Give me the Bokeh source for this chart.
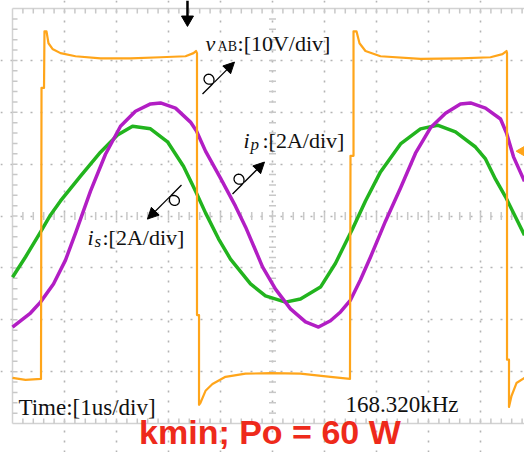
import numpy as np
from bokeh.plotting import figure
from bokeh.models import Range1d, Grid, FixedTicker, Label, Arrow, NormalHead
from bokeh.embed import file_html
from bokeh.resources import INLINE

# ---------------- data (time in us = 1 div, amplitude in divisions) ----------------
vab_t = [0.000, 0.250, 0.548, 0.558, 0.606, 0.615, 0.654, 0.692, 0.769, 0.923, 1.212, 1.692,
         2.269, 2.846, 3.327, 3.481, 3.529, 3.548, 3.548, 3.587, 3.587, 3.615, 3.712, 3.846,
         4.096, 4.481, 4.962, 5.538, 6.115, 6.490, 6.500, 6.558, 6.558, 6.615, 6.673, 6.788,
         7.077, 7.846, 8.615, 9.192, 9.423, 9.500, 9.510, 9.510, 9.548, 9.548, 9.596, 9.692,
         9.846]
vab_v = [-3.12, -3.16, -3.14, 2.47, 2.47, 3.56, 3.56, 3.33, 3.22, 3.14, 3.08, 3.04,
         3.04, 3.06, 3.08, 3.14, 3.18, 3.14, -1.91, -1.91, -3.64, -3.60, -3.37, -3.24,
         -3.10, -3.04, -3.03, -3.04, -3.10, -3.14, 1.16, 1.16, 3.56, 3.56, 3.33, 3.18,
         3.08, 3.03, 3.04, 3.06, 3.12, 3.18, 3.14, -2.77, -2.77, -3.68, -3.47, -3.22,
         -3.12]

is_t = [0.000, 0.250, 0.538, 0.731, 0.923, 1.308, 1.692, 2.019, 2.308, 2.654, 2.981, 3.288,
        3.519, 3.712, 3.962, 4.192, 4.577, 4.865, 5.250, 5.538, 5.923, 6.212, 6.404, 6.538,
        6.788, 7.077, 7.462, 7.846, 8.173, 8.519, 8.904, 9.096, 9.288, 9.481, 9.673, 9.846]
is_v = [-1.18, -0.79, -0.31, 0.02, 0.29, 0.77, 1.23, 1.56, 1.73, 1.68, 1.43, 0.96,
        0.48, 0.06, -0.44, -0.83, -1.31, -1.54, -1.66, -1.60, -1.37, -0.91, -0.52, -0.25,
        0.29, 0.85, 1.39, 1.68, 1.75, 1.62, 1.33, 1.10, 0.71, 0.37, -0.02, -0.37]

ip_t = [0.000, 0.154, 0.346, 0.538, 0.788, 1.019, 1.212, 1.500, 1.788, 2.077, 2.365, 2.654,
        2.846, 3.135, 3.423, 3.538, 3.712, 4.000, 4.288, 4.481, 4.673, 4.808, 5.058, 5.346,
        5.635, 5.885, 6.115, 6.308, 6.500, 6.692, 6.885, 7.077, 7.173, 7.462, 7.750, 8.038,
        8.327, 8.615, 8.808, 9.096, 9.385, 9.500, 9.635, 9.846]
ip_v = [-2.14, -2.02, -1.87, -1.66, -1.31, -0.85, -0.33, 0.48, 1.19, 1.73, 2.02, 2.16,
        2.18, 2.08, 1.81, 1.64, 1.25, 0.73, 0.19, -0.21, -0.66, -0.98, -1.41, -1.79,
        -2.04, -2.14, -2.02, -1.85, -1.62, -1.23, -0.79, -0.33, -0.10, 0.54, 1.21, 1.70,
        1.98, 2.16, 2.18, 2.08, 1.87, 1.60, 1.14, 0.67]

# annotation arrows: (tail, tip) in (us, div)
arrow_tails = [(3.654, 2.351), (4.231, 0.424), (3.250, 0.597)]
arrow_tips = [(4.269, 2.967), (4.846, 1.040), (2.596, -0.058)]

time_label = "Time:[1us/div]"
freq_label = "168.320kHz"
title_text = "kmin; Po = 60 W"

# ---------------- figure ----------------
W, H = 524, 452
SX = 52.0          # px per time division
SY = 415.0 / 8     # px per vertical division
XL, XR = 0.0, 512 / SX
YB, YT = -4.0, 4.0
x_range = Range1d(XL - 12 / SX, XR)
y_range = Range1d(YB - 29 / SY, YT + 8 / SY)

C_OR = "#FFA51A"
C_GR = "#22B41E"
C_MG = "#B21EC4"
C_DOT = "#b4b4b4"
C_TICK = "#c8c8c8"

p = figure(width=W, height=H, x_range=x_range, y_range=y_range,
           output_backend="svg", toolbar_location=None,
           x_axis_type=None, y_axis_type=None,
           min_border_left=0, min_border_right=0, min_border_top=0, min_border_bottom=0)
p.outline_line_color = None
p.background_fill_color = "white"
p.border_fill_color = "white"

p.add_layout(Grid(dimension=0, ticker=FixedTicker(ticks=list(range(1, 10))), bounds=(YB, YT),
                  grid_line_color=C_DOT, grid_line_width=1.6, grid_line_dash="2 8"))
p.add_layout(Grid(dimension=1, ticker=FixedTicker(ticks=list(range(-3, 4))), bounds=(XL, 10),
                  grid_line_color=C_DOT, grid_line_width=1.6, grid_line_dash="2 8"))

# frame border (left, top, bottom)
p.segment(x0=[XL, XL, XL], y0=[YB, YT, YB], x1=[XL, XR, XR], y1=[YT, YT, YB],
          line_color="#d2d2d2", line_width=1.5)

# minor ticks
mx = np.arange(1, 50) * 0.2
my = np.arange(-19, 20) * 0.2
p.segment(x0=mx, y0=YT, x1=mx, y1=YT - 5 / SY, line_color=C_TICK, line_width=1.5)
p.segment(x0=mx, y0=YB, x1=mx, y1=YB + 5 / SY, line_color=C_TICK, line_width=1.5)
p.segment(x0=XL, y0=my, x1=XL + 5 / SX, y1=my, line_color=C_TICK, line_width=1.5)
p.segment(x0=mx, y0=-4 / SY, x1=mx, y1=4 / SY, line_color=C_TICK, line_width=1.5)
p.segment(x0=5 - 3.5 / SX, y0=my, x1=5 + 3.5 / SX, y1=my, line_color=C_TICK, line_width=1.5)

# traces
p.line(is_t, is_v, line_color=C_GR, line_width=3.5, line_join="round")
p.line(ip_t, ip_v, line_color=C_MG, line_width=3.5, line_join="round")
p.line(vab_t, vab_v, line_color=C_OR, line_width=2.2, line_join="round")

# trigger marker (top) and channel marker (right edge)
TX = 3.365
p.segment(x0=[TX], y0=[YT + 8 / SY], x1=[TX], y1=[YT - 9 / SY], line_color="black", line_width=2.5)
p.scatter([TX], [YT - 11 / SY], marker="inverted_triangle", size=12,
          fill_color="black", line_color="black")
p.scatter([XR - 2 / SX], [1.25], marker="triangle", angle=np.pi / 2, size=11,
          fill_color=C_OR, line_color=C_OR)


# curly arrows
def curly(tail, tip, r=5.5, d=3.0, frac=0.30):
    tx, ty = tail[0] * SX, tail[1] * SY
    hx, hy = tip[0] * SX, tip[1] * SY
    L = np.hypot(hx - tx, hy - ty)
    ux, uy = (hx - tx) / L, (hy - ty) / L
    nx, ny = -uy, ux
    ax, ay = tx + ux * L * frac, ty + uy * L * frac
    tau = np.linspace(0, 2 * np.pi, 48)
    a = r * np.sin(tau) + d * tau / (2 * np.pi)
    b = r * (1 - np.cos(tau))
    xs = np.concatenate([[tx], ax + ux * a + nx * b])
    ys = np.concatenate([[ty], ay + uy * a + ny * b])
    p.line(xs / SX, ys / SY, line_color="black", line_width=1.3)
    bx, by = xs[-1], ys[-1]
    p.add_layout(Arrow(x_start=bx / SX, y_start=by / SY, x_end=tip[0], y_end=tip[1],
                       line_color="black", line_width=1.3,
                       end=NormalHead(size=11, fill_color="black", line_color="black")))


for tl, tp in zip(arrow_tails, arrow_tips):
    curly(tl, tp)


def lab(x, y, text, size, style="normal", dx=0, dy=0, font="Liberation Serif",
        color="#111111", align="left", shift=None):
    if shift is None:
        shift = 0.3 * size
    p.add_layout(Label(x=x, y=y, text=text, x_offset=dx, y_offset=dy + shift,
                       text_font=font, text_font_size=f"{size}px", text_font_style=style,
                       text_color=color, text_align=align, text_baseline="alphabetic"))


# channel labels
lab(3.712, 3.198, "v", 22, "italic")
lab(3.712, 3.198, "AB", 14, dx=12, dy=-3, shift=6.6)
lab(3.712, 3.198, ":[10V/div]", 22, dx=32)

lab(4.442, 1.329, "i", 22, "italic")
lab(4.442, 1.329, "p", 17, "italic", dx=7, dy=-4, shift=6.6)
lab(4.442, 1.329, ":[2A/div]", 22, dx=19)

lab(1.442, -0.540, "i", 22, "italic")
lab(1.442, -0.540, "s", 17, "italic", dx=7, dy=-4, shift=6.6)
lab(1.442, -0.540, ":[2A/div]", 22, dx=15)

lab(0.115, -3.815, time_label, 23)
lab(6.404, -3.776, freq_label, 23)

lab(4.95, YB - 23 / SY, title_text, 34, "bold", font="Liberation Sans",
    color="#EE2A1B", align="center", dy=4)

open("out.html", "w").write(file_html(p, INLINE))
